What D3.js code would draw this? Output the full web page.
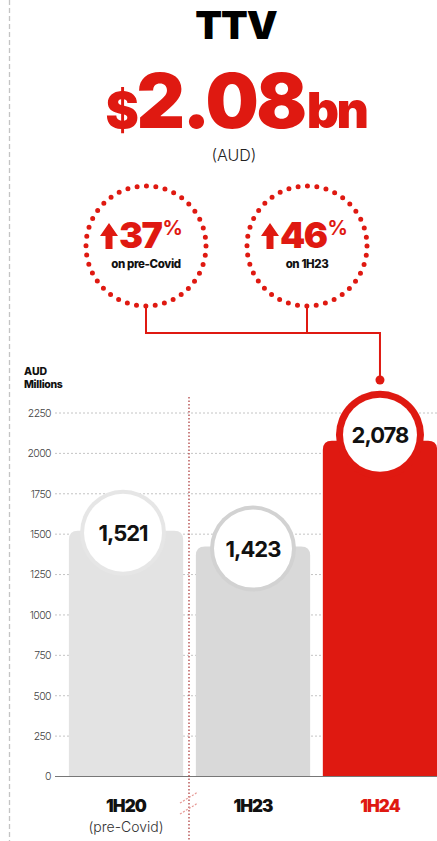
<!DOCTYPE html>
<html><head><meta charset="utf-8">
<script src="https://cdn.jsdelivr.net/npm/d3@7/dist/d3.min.js"></script>
<style>
html,body{margin:0;padding:0;background:#fff;}
svg{display:block;font-family:Inter,"Open Sans",sans-serif;}
</style></head>
<body>
<svg id="c" width="437" height="841"></svg>
<script>
const categories = ["1H20", "1H23", "1H24"];
const subLabels = ["(pre-Covid)", "", ""];
const values = [1521, 1423, 2078];
const valueLabels = ["1,521", "1,423", "2,078"];
const yTicks = [0, 250, 500, 750, 1000, 1250, 1500, 1750, 2000, 2250];
const calloutPcts = ["37", "46"];
const calloutSubs = ["on pre-Covid", "on 1H23"];

const RED = "#df1911";
const barFill = ["#e3e3e3", "#d9d9d9", RED];
const ringFill = ["#e6e6e6", "#d2d2d2", RED];

const svg = d3.select("#c");

// left dashed border
svg.append("line").attr("x1", 9.5).attr("x2", 9.5).attr("y1", 0).attr("y2", 841)
  .attr("stroke", "#c4c4c4").attr("stroke-width", 1.3).attr("stroke-dasharray", "5 3");

// Title
svg.append("text").attr("x", 236).attr("y", 39).attr("text-anchor", "middle")
  .attr("font-size", 39).attr("font-weight", 900).attr("fill", "#000").attr("letter-spacing", -1).text("TTV");

const big = svg.append("text").attr("x", 236).attr("y", 128).attr("text-anchor", "middle")
  .attr("fill", RED).attr("font-weight", 900).attr("letter-spacing", -2.5);
big.append("tspan").attr("font-size", 50).text("$");
big.append("tspan").attr("font-size", 75).text("2.08");
big.append("tspan").attr("font-size", 50).attr("dx", 2).text("bn");

svg.append("text").attr("x", 234).attr("y", 161).attr("text-anchor", "middle")
  .attr("font-size", 16).attr("font-weight", 300).attr("fill", "#222").text("(AUD)");

// scales
const x = d3.scaleBand().domain(categories).range([60, 446]).paddingInner(0.1).paddingOuter(0.07);
const y = d3.scaleLinear().domain([0, 2250]).range([776.5, 413]);
const X0 = 55, X1 = 437;

// gridlines
svg.append("g").selectAll("line").data(yTicks.filter(d => d > 0)).join("line")
  .attr("x1", X0).attr("x2", X1).attr("y1", d => y(d)).attr("y2", d => y(d))
  .attr("stroke", "#c4c4c4").attr("stroke-width", 1).attr("stroke-dasharray", "2 2");

// y axis tick labels via d3 axis
const yAxis = d3.axisLeft(y).tickValues(yTicks).tickSize(0).tickPadding(0).tickFormat(d3.format("d"));
const gy = svg.append("g").attr("transform", `translate(51,0)`).call(yAxis);
gy.select(".domain").remove();
gy.selectAll("text").attr("font-family", "Inter,sans-serif").attr("font-size", 10.5)
  .attr("font-weight", 300).attr("fill", "#444").attr("letter-spacing", -0.6);

// axis title
svg.append("text").attr("x", 24).attr("y", 375).attr("font-size", 10.5).attr("font-weight", 800).attr("fill", "#111").text("AUD");
svg.append("text").attr("x", 24).attr("y", 388).attr("font-size", 10.5).attr("font-weight", 800).attr("fill", "#111").attr("letter-spacing", -0.3).text("Millions");

// bars with rounded top corners
function topRounded(x0, y0, w, h, r) {
  return `M${x0},${y0 + h} L${x0},${y0 + r} Q${x0},${y0} ${x0 + r},${y0} L${x0 + w - r},${y0} Q${x0 + w},${y0} ${x0 + w},${y0 + r} L${x0 + w},${y0 + h} Z`;
}
const data = categories.map((c, i) => ({ c, v: values[i], i }));
svg.append("g").selectAll("path").data(data).join("path")
  .attr("d", d => topRounded(x(d.c), y(d.v), x.bandwidth(), y(0) - y(d.v), 9))
  .attr("fill", d => barFill[d.i]);

// baseline
svg.append("line").attr("x1", X0).attr("x2", X1).attr("y1", y(0)).attr("y2", y(0))
  .attr("stroke", "#777").attr("stroke-width", 1.2);

// value circles
const cg = svg.append("g").selectAll("g").data(data).join("g")
  .attr("transform", d => `translate(${x(d.c) + x.bandwidth() / 2 - (d.i === 0 ? 3 : 0)},${y(d.v) + (d.i === 2 ? -6 : 2)})`);
cg.append("circle").attr("r", d => d.i === 2 ? 44 : 43).attr("fill", d => ringFill[d.i]);
cg.append("circle").attr("r", d => d.i === 2 ? 37 : 39).attr("fill", "#fff");
cg.append("text").attr("text-anchor", "middle").attr("dy", 8).attr("font-size", 22)
  .attr("font-weight", 700).attr("fill", "#111").attr("letter-spacing", -1).text(d => valueLabels[d.i]);

// divider
svg.append("line").attr("x1", 189).attr("x2", 189).attr("y1", 397).attr("y2", 841)
  .attr("stroke", "#a33").attr("stroke-width", 1.2).attr("stroke-dasharray", "1.5 2");
svg.append("g").selectAll("line").data([0, 11]).join("line")
  .attr("x1", 180).attr("x2", 198).attr("y1", d => 803 + d).attr("y2", d => 792 + d)
  .attr("stroke", "#e79a96").attr("stroke-width", 1.2).attr("stroke-dasharray", "2 1.5");

// category labels
svg.append("g").selectAll("text").data(data).join("text")
  .attr("x", d => x(d.c) + x.bandwidth() / 2).attr("y", 812).attr("text-anchor", "middle")
  .attr("font-size", 17).attr("font-weight", 900).attr("letter-spacing", -0.9)
  .attr("fill", d => d.i === 2 ? RED : "#111").text(d => d.c);
svg.append("g").selectAll("text").data(data.filter(d => subLabels[d.i])).join("text")
  .attr("x", d => x(d.c) + x.bandwidth() / 2).attr("y", 832).attr("text-anchor", "middle")
  .attr("font-size", 14).attr("font-weight", 300).attr("fill", "#333").text(d => subLabels[d.i]);

// callout circles
const callX = [146, 307], callY = 246, callR = 60;
const redX = x(categories[2]) + x.bandwidth() / 2;
// connectors
const conn = d3.path();
conn.moveTo(callX[0], callY + callR); conn.lineTo(callX[0], 333); conn.lineTo(redX, 333); conn.lineTo(redX, 380);
conn.moveTo(callX[1], callY + callR); conn.lineTo(callX[1], 333);
svg.append("path").attr("d", conn.toString()).attr("fill", "none").attr("stroke", RED).attr("stroke-width", 2);
svg.append("circle").attr("cx", redX).attr("cy", 380).attr("r", 4.5).attr("fill", RED);

const circ = 2 * Math.PI * callR;
const cc = svg.append("g").selectAll("g").data(calloutPcts).join("g")
  .attr("transform", (d, i) => `translate(${callX[i]},${callY})`);
cc.append("circle").attr("r", callR).attr("fill", "#fff").attr("stroke", RED)
  .attr("stroke-width", 5).attr("stroke-linecap", "round")
  .attr("stroke-dasharray", `0 ${circ / 40}`);
// arrow
cc.append("path").attr("d", "M-46,-10 L-37,-23 L-28,-10 L-33.5,-10 L-33.5,3 L-40.5,3 L-40.5,-10 Z")
  .attr("fill", RED);
const pt = cc.append("text").attr("x", -27).attr("y", 2).attr("fill", RED).attr("font-weight", 900).attr("letter-spacing", -1.5);
pt.append("tspan").attr("font-size", 36).text(d => d);
pt.append("tspan").attr("font-size", 20).attr("dy", -13).attr("dx", 1).attr("font-weight", 700).text("%");
cc.append("text").attr("y", 22).attr("text-anchor", "middle").attr("font-size", 11.5)
  .attr("font-weight", 800).attr("fill", "#111").attr("letter-spacing", -0.4).text((d, i) => calloutSubs[i]);
</script>
</body></html>
